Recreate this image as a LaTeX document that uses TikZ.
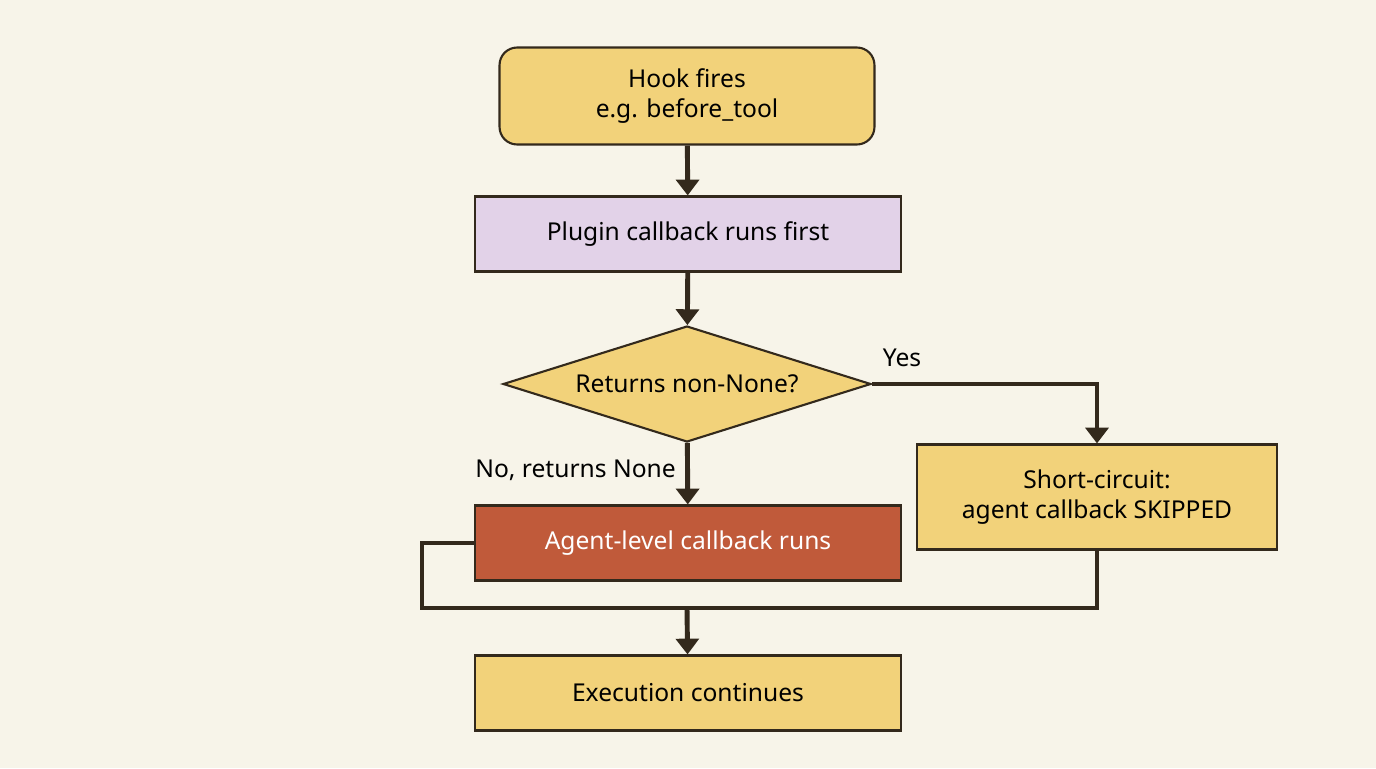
\documentclass[tikz,border=0pt]{standalone}
\usepackage{fontspec}
\setmainfont{Noto Sans}
\usetikzlibrary{shapes.geometric,arrows.meta}
\definecolor{bgcol}{HTML}{F7F4E9}
\definecolor{linecol}{HTML}{33291C}
\definecolor{yellowbox}{HTML}{F2D27A}
\definecolor{lilacbox}{HTML}{E2D2E8}
\definecolor{rustbox}{HTML}{C05A3A}
\tikzset{
  box/.style={draw=linecol,line width=1.2pt,minimum width=8.52cm,minimum height=1.5cm,
    font=\fontsize{14}{17}\selectfont,align=center},
  link/.style={draw=linecol,line width=2.8pt,-{Triangle[length=9pt,width=13pt]}},
  lbl/.style={font=\fontsize{14}{17}\selectfont\bfseries,text=black}
}
\begin{document}
\begin{tikzpicture}[x=0.02cm,y=-0.02cm]
\fill[bgcol] (0,0) rectangle (1376,768);
\useasboundingbox (0,0) rectangle (1376,768);
\node[box,fill=yellowbox,rounded corners=10pt,minimum width=7.5cm,minimum height=1.94cm] (hook) at (687,96) {Hook fires\\e.g. before\_tool};
\node[box,fill=lilacbox] (plugin) at (688,234) {Plugin callback runs first};
\node[box,diamond,aspect=3.17,fill=yellowbox,minimum width=7.36cm,minimum height=2.32cm,inner sep=0pt] (check) at (687,384) {Returns non-None?};
\node[box,fill=rustbox,text=white] (agent) at (688,543) {Agent-level callback runs};
\node[box,fill=yellowbox,minimum width=7.2cm,minimum height=2.1cm] (short) at (1097,497) {Short-circuit:\\agent callback SKIPPED};
\node[box,fill=yellowbox] (exec) at (688,693) {Execution continues};
\coordinate (yescorner) at (1097,384);
\coordinate (leftturn) at (422,543);
\coordinate (leftlow) at (422,608);
\coordinate (merge) at (687,608);
\coordinate (rightlow) at (1097,608);
\draw[link] (hook) -- (plugin);
\draw[link] (plugin) -- (check);
\draw[link] (check) -- node[lbl,left=2pt,pos=0.45]{No, returns None} (agent);
\draw[link] (check.east) -- (yescorner) -- (short.north);
\node[lbl] (yes) at (902,358) {Yes};
\draw[draw=linecol,line width=2.8pt,line join=miter] (agent.west) -- (leftturn) -- (leftlow) -- (rightlow) -- (short.south);
\draw[link] (merge) -- (exec);
\end{tikzpicture}
\end{document}
